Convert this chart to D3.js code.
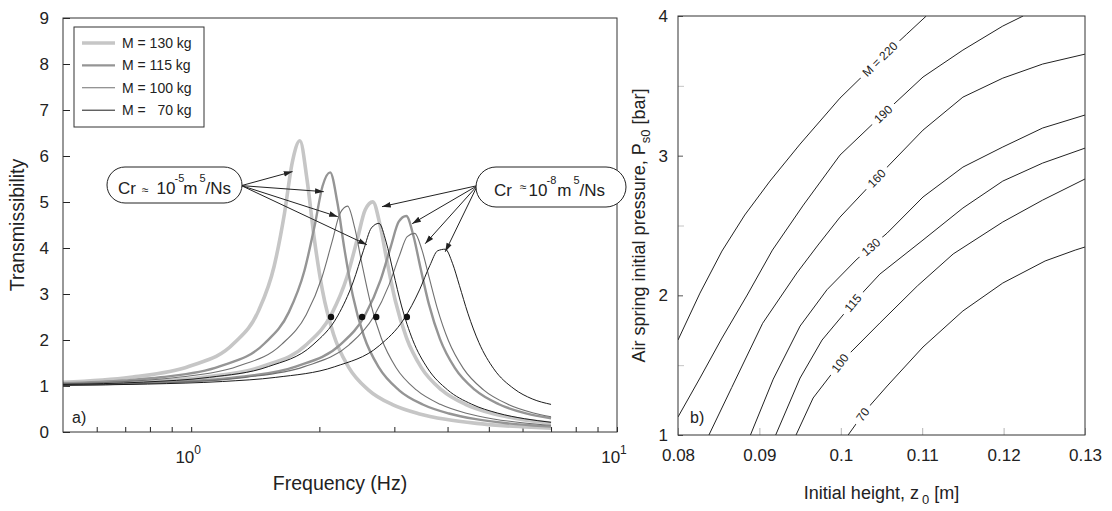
<!DOCTYPE html>
<html>
<head>
<meta charset="utf-8">
<script src="https://cdn.jsdelivr.net/npm/d3@7"></script>
<style>
  body { margin: 0; background: #fff; }
  svg { font-family: "Liberation Sans", Arial, Helvetica, sans-serif; }
  .pre { white-space: pre; }
</style>
</head>
<body>
<svg id="chart" width="1112" height="511"></svg>
<script>
// ---------- panel a) transmissibility curves, [frequency Hz, T] ----------
const massLabels = ['M = 130 kg', 'M = 115 kg', 'M = 100 kg', 'M =   70 kg'];

// Cr ~ 1e-5 m^5/Ns
const t130cr5 = [[0.5,1.083],[0.72,1.190],[0.99,1.428],[1.26,1.927],[1.44,2.639],[1.566,3.604],[1.656,4.751],[1.728,5.867],[1.8,6.330],[1.872,5.470],[1.944,4.230],[2.034,3.073],[2.16,2.121],[2.34,1.417],[2.61,0.911],[2.97,0.594],[3.42,0.398],[3.96,0.275],[4.68,0.188],[5.4,0.138],[6.3,0.102],[7.0,0.083]];
const t115cr5 = [[0.5,1.059],[0.70,1.122],[0.848,1.189],[1.166,1.426],[1.484,1.919],[1.696,2.606],[1.844,3.500],[1.950,4.488],[2.035,5.348],[2.12,5.645],[2.205,4.982],[2.290,3.981],[2.396,2.970],[2.544,2.087],[2.756,1.410],[3.074,0.912],[3.498,0.597],[4.028,0.402],[4.664,0.279],[5.512,0.191],[6.36,0.142],[7.0,0.117]];
const t100cr5 = [[0.5,1.048],[0.699,1.098],[0.932,1.189],[1.282,1.424],[1.631,1.905],[1.864,2.556],[2.027,3.353],[2.144,4.149],[2.237,4.754],[2.33,4.911],[2.423,4.425],[2.516,3.666],[2.633,2.828],[2.796,2.038],[3.029,1.398],[3.379,0.914],[3.845,0.602],[4.427,0.407],[5.126,0.284],[6.058,0.197],[7.0,0.147]];
const t70cr5 = [[0.5,1.034],[0.773,1.085],[1.104,1.189],[1.518,1.422],[1.932,1.896],[2.208,2.523],[2.401,3.260],[2.539,3.951],[2.650,4.436],[2.76,4.536],[2.870,4.129],[2.981,3.485],[3.119,2.740],[3.312,2.005],[3.588,1.390],[4.002,0.915],[4.554,0.606],[5.244,0.411],[6.072,0.288],[7.0,0.211]];

// Cr ~ 1e-8 m^5/Ns
const t130cr8 = [[0.5,1.036],[0.748,1.085],[1.068,1.189],[1.469,1.424],[1.869,1.907],[2.136,2.563],[2.323,3.374],[2.456,4.195],[2.563,4.831],[2.67,5.003],[2.777,4.497],[2.884,3.709],[3.017,2.848],[3.204,2.045],[3.471,1.400],[3.872,0.914],[4.406,0.601],[5.073,0.407],[5.874,0.284],[7.0,0.192]];
const t115cr8 = [[0.5,1.025],[0.8,1.067],[1.28,1.189],[1.76,1.423],[2.24,1.900],[2.56,2.538],[2.784,3.301],[2.944,4.037],[3.072,4.572],[3.2,4.695],[3.328,4.255],[3.456,3.563],[3.616,2.779],[3.84,2.019],[4.16,1.393],[4.64,0.914],[5.28,0.604],[6.08,0.410],[7.0,0.300]];
const t100cr8 = [[0.5,1.023],[0.838,1.066],[1.34,1.188],[1.843,1.421],[2.345,1.890],[2.68,2.500],[2.915,3.198],[3.082,3.828],[3.216,4.247],[3.35,4.319],[3.484,3.953],[3.618,3.372],[3.786,2.683],[4.02,1.983],[4.355,1.384],[4.858,0.916],[5.528,0.608],[6.365,0.414],[7.0,0.330]];
const t70cr8 = [[0.5,1.016],[0.79,1.042],[1.185,1.098],[1.58,1.188],[2.173,1.419],[2.765,1.877],[3.16,2.457],[3.437,3.088],[3.634,3.617],[3.792,3.940],[3.95,3.974],[4.108,3.668],[4.266,3.182],[4.464,2.582],[4.74,1.942],[5.135,1.374],[5.728,0.940],[6.32,0.720],[7.0,0.600]];

const curvesCr5 = [t130cr5, t115cr5, t100cr5, t70cr5];
const curvesCr8 = [t130cr8, t115cr8, t100cr8, t70cr8];

// crossing points of the two Cr curves of each mass
const dotFreq = [2.13, 2.52, 2.72, 3.21];
const dotT = 2.5;

// annotation arrows: box tip and the peaks they point to, [f, T]
const crLowTip = [1.312, 5.356];
const crLowTargets = [[1.730,5.661],[2.048,5.225],[2.210,4.681],[2.586,4.071]];
const crHighTip = [4.70, 5.356];
const crHighTargets = [[2.806,4.899],[3.303,4.529],[3.544,4.093],[3.951,3.919]];

const xTicksA = [0.6,0.7,0.8,0.9,1,2,3,4,5,6,7,8,9,10];
const yTicksA = [0,1,2,3,4,5,6,7,8,9];

// ---------- panel b) mass contours, [z0 m, Ps0 bar] ----------
const c220 = [[0.0800,1.680],[0.0827,2.016],[0.0854,2.317],[0.0882,2.575],[0.0913,2.818],[0.0950,3.083],[0.0999,3.412],[0.1048,3.691],[0.1081,3.870],[0.1105,4.000]];
const c190 = [[0.0800,1.129],[0.0827,1.408],[0.0854,1.694],[0.0885,2.002],[0.0916,2.324],[0.0954,2.646],[0.0999,3.004],[0.1048,3.276],[0.1101,3.563],[0.1150,3.756],[0.1199,3.928],[0.1224,4.000]];
const c160 = [[0.0838,1.000],[0.0866,1.340],[0.0904,1.800],[0.0946,2.160],[0.0972,2.360],[0.0999,2.560],[0.1057,2.918],[0.1101,3.183],[0.1150,3.419],[0.1199,3.555],[0.1248,3.656],[0.1300,3.727]];
const c130 = [[0.0889,1.000],[0.0917,1.400],[0.0950,1.780],[0.0983,2.040],[0.1020,2.260],[0.1057,2.446],[0.1101,2.704],[0.1150,2.918],[0.1199,3.062],[0.1248,3.198],[0.1300,3.291]];
const c115 = [[0.0920,1.000],[0.0950,1.408],[0.0977,1.680],[0.1015,1.945],[0.1048,2.152],[0.1101,2.396],[0.1150,2.625],[0.1199,2.818],[0.1248,2.947],[0.1300,3.054]];
const c100 = [[0.0945,1.000],[0.0966,1.265],[0.0999,1.515],[0.1048,1.802],[0.1094,2.067],[0.1138,2.296],[0.1199,2.525],[0.1248,2.682],[0.1300,2.833]];
const c70 = [[0.1009,1.000],[0.1031,1.179],[0.1057,1.351],[0.1101,1.630],[0.1150,1.888],[0.1199,2.088],[0.1251,2.246],[0.1288,2.324],[0.1300,2.346]];

const contours = [c220, c190, c160, c130, c115, c100, c70];
const contourLabels = ['M = 220', '190', '160', '130', '115', '100', '70'];
const contourLabelZ = [0.1048, 0.1052, 0.1044, 0.1037, 0.1015, 0.0999, 0.1027];

const xTicksB = [0.08, 0.09, 0.1, 0.11, 0.12, 0.13];
const yTicksB = [1, 2, 3, 4];
const yMinorB = [1.5, 2.5, 3.5];

// ---------- drawing ----------
const svg = d3.select('#chart');
const ink = '#222';

const defs = svg.append('defs');
defs.append('marker')
  .attr('id', 'arrowhead')
  .attr('viewBox', '0 -4 10 8')
  .attr('refX', 10)
  .attr('refY', 0)
  .attr('markerWidth', 9)
  .attr('markerHeight', 7)
  .attr('markerUnits', 'userSpaceOnUse')
  .attr('orient', 'auto')
  .append('path')
  .attr('d', 'M0,-3.2L10,0L0,3.2Z')
  .attr('fill', ink);

// ===== panel a =====
const pa = { left: 63, right: 617, top: 18, bottom: 432 };
const xA = d3.scaleLog().domain([0.5, 10]).range([pa.left, pa.right]);
const yA = d3.scaleLinear().domain([0, 9]).range([pa.bottom, pa.top]);

const gA = svg.append('g');

// ticks pointing inward
const xAxisA = gA.append('g')
  .attr('transform', `translate(0,${pa.bottom})`)
  .call(d3.axisBottom(xA).tickValues(xTicksA).tickSize(-5).tickFormat(''));
xAxisA.select('.domain').remove();
xAxisA.selectAll('line').attr('stroke', ink);

const yAxisA = gA.append('g')
  .attr('transform', `translate(${pa.left},0)`)
  .call(d3.axisLeft(yA).tickValues(yTicksA).tickSize(-7).tickPadding(14));
yAxisA.select('.domain').remove();
yAxisA.selectAll('line').attr('stroke', ink);
yAxisA.selectAll('text').attr('font-size', 17).attr('fill', ink).attr('font-family', null);

// 10^0, 10^1 labels
[1, 10].forEach((v, i) => {
  const t = gA.append('text')
    .attr('x', xA(v) - 3)
    .attr('y', pa.bottom + 31)
    .attr('text-anchor', 'middle')
    .attr('fill', ink)
    .attr('font-size', 17);
  t.append('tspan').text('10');
  t.append('tspan').attr('dy', -9).attr('font-size', 12).text(String(i));
});

const lineA = d3.line()
  .x(d => xA(d[0]))
  .y(d => yA(d[1]))
  .curve(d3.curveMonotoneX);

const massStyles = [
  { color: '#c6c6c6', width: 3.6 },
  { color: '#959595', width: 2.4 },
  { color: '#707070', width: 1.1 },
  { color: '#1c1c1c', width: 1.0 }
];

massStyles.forEach((s, i) => {
  [curvesCr5[i], curvesCr8[i]].forEach(c => {
    gA.append('path')
      .attr('d', lineA(c))
      .attr('fill', 'none')
      .attr('stroke', s.color)
      .attr('stroke-width', s.width)
      .attr('stroke-linejoin', 'round');
  });
});

gA.selectAll('circle.cross')
  .data(dotFreq)
  .join('circle')
  .attr('class', 'cross')
  .attr('cx', d => xA(d))
  .attr('cy', yA(dotT))
  .attr('r', 3.2)
  .attr('fill', '#111');

// frame
gA.append('rect')
  .attr('x', pa.left).attr('y', pa.top)
  .attr('width', pa.right - pa.left).attr('height', pa.bottom - pa.top)
  .attr('fill', 'none').attr('stroke', '#333').attr('stroke-width', 1);

// legend
const leg = gA.append('g');
leg.append('rect')
  .attr('x', 74).attr('y', 27).attr('width', 130).attr('height', 100)
  .attr('fill', '#fff').attr('stroke', '#333').attr('stroke-width', 1);
massLabels.forEach((lab, i) => {
  const y = 43 + i * 22.4;
  leg.append('line')
    .attr('x1', 82).attr('x2', 115).attr('y1', y).attr('y2', y)
    .attr('stroke', massStyles[i].color)
    .attr('stroke-width', massStyles[i].width);
  leg.append('text')
    .attr('class', 'pre')
    .attr('x', 122).attr('y', y + 5)
    .attr('font-size', 14).attr('fill', ink)
    .text(lab);
});

// annotations
function arrows(tip, targets) {
  targets.forEach(t => {
    gA.append('line')
      .attr('x1', xA(tip[0])).attr('y1', yA(tip[1]))
      .attr('x2', xA(t[0])).attr('y2', yA(t[1]))
      .attr('stroke', ink).attr('stroke-width', 1)
      .attr('marker-end', 'url(#arrowhead)');
  });
}
arrows(crLowTip, crLowTargets);
arrows(crHighTip, crHighTargets);

function crBox(x0, x1, cy, h, approxUp, exp) {
  gA.append('rect')
    .attr('x', x0).attr('y', cy - h / 2)
    .attr('width', x1 - x0).attr('height', h)
    .attr('rx', h / 2).attr('ry', h / 2)
    .attr('fill', '#fff').attr('stroke', ink).attr('stroke-width', 1);
  const t = gA.append('text')
    .attr('x', x0 + (approxUp ? 18 : 11)).attr('y', cy + 9)
    .attr('font-size', 17).attr('fill', ink);
  t.append('tspan').text('Cr');
  t.append('tspan').attr('font-size', 12).attr('dx', approxUp ? 8 : 6).attr('dy', approxUp ? -5 : 0).text('\u2248');
  t.append('tspan').attr('dx', approxUp ? 2 : 8).attr('dy', approxUp ? 5 : 0).text('10');
  t.append('tspan').attr('font-size', 11).attr('dx', -1).attr('dy', -12).text(exp);
  t.append('tspan').attr('dx', approxUp ? 1 : -1).attr('dy', 12).text('m');
  t.append('tspan').attr('font-size', 11).attr('dx', 2).attr('dy', -12).text('5');
  t.append('tspan').attr('dy', 12).text('/Ns');
}
crBox(107, 242, 185, 36, false, '-5');
crBox(476, 626, 187, 40, true, '-8');

gA.append('text')
  .attr('x', 72).attr('y', 423)
  .attr('font-size', 16).attr('fill', ink)
  .text('a)');

gA.append('text')
  .attr('transform', `translate(24,${(pa.top + pa.bottom) / 2}) rotate(-90)`)
  .attr('text-anchor', 'middle')
  .attr('font-size', 19.5).attr('fill', ink)
  .text('Transmissibility');

gA.append('text')
  .attr('x', (pa.left + pa.right) / 2).attr('y', 490)
  .attr('text-anchor', 'middle')
  .attr('font-size', 19.5).attr('fill', ink)
  .text('Frequency (Hz)');

// ===== panel b =====
const pb = { left: 678, right: 1085, top: 16, bottom: 435 };
const xB = d3.scaleLinear().domain([0.08, 0.13]).range([pb.left, pb.right]);
const yB = d3.scaleLinear().domain([1, 4]).range([pb.bottom, pb.top]);

const gB = svg.append('g');

defs.append('clipPath').attr('id', 'clipB')
  .append('rect')
  .attr('x', pb.left).attr('y', pb.top)
  .attr('width', pb.right - pb.left).attr('height', pb.bottom - pb.top);

const xAxisB = gB.append('g')
  .attr('transform', `translate(0,${pb.bottom})`)
  .call(d3.axisBottom(xB).tickValues(xTicksB).tickSize(-7).tickPadding(14)
    .tickFormat(d => String(+d.toFixed(2))));
xAxisB.select('.domain').remove();
xAxisB.selectAll('line').attr('stroke', '#b4b4b4');
xAxisB.selectAll('text').attr('font-size', 17).attr('fill', ink).attr('font-family', null);

const yAxisB = gB.append('g')
  .attr('transform', `translate(${pb.left},0)`)
  .call(d3.axisLeft(yB).tickValues(yTicksB).tickSize(-5).tickPadding(10).tickFormat(d3.format('d')));
yAxisB.select('.domain').remove();
yAxisB.selectAll('line').attr('stroke', '#555');
yAxisB.selectAll('text').attr('font-size', 17).attr('fill', ink).attr('font-family', null);

const yMinorAxisB = gB.append('g')
  .attr('transform', `translate(${pb.left},0)`)
  .call(d3.axisLeft(yB).tickValues(yMinorB).tickSize(-6).tickFormat(''));
yMinorAxisB.select('.domain').remove();
yMinorAxisB.selectAll('line').attr('stroke', '#c4c4c4');

const lineB = d3.line()
  .x(d => xB(d[0]))
  .y(d => yB(d[1]));

const contourG = gB.append('g').attr('clip-path', 'url(#clipB)');
contours.forEach(c => {
  contourG.append('path')
    .attr('d', lineB(c))
    .attr('fill', 'none')
    .attr('stroke', ink)
    .attr('stroke-width', 1)
    .attr('stroke-linejoin', 'round');
});

function labelSpot(points, z) {
  const px = points.map(d => [xB(d[0]), yB(d[1])]);
  const tx = xB(z);
  let i = px.findIndex((p, k) => k < px.length - 1 && tx >= p[0] && tx <= px[k + 1][0]);
  if (i < 0) i = 0;
  const a = px[i], b = px[i + 1];
  const f = (tx - a[0]) / (b[0] - a[0]);
  return {
    x: tx,
    y: a[1] + f * (b[1] - a[1]),
    angle: Math.atan2(b[1] - a[1], b[0] - a[0]) * 180 / Math.PI
  };
}

contours.forEach((c, i) => {
  const s = labelSpot(c, contourLabelZ[i]);
  const g = gB.append('g').attr('transform', `translate(${s.x},${s.y}) rotate(${s.angle})`);
  const bg = g.append('rect').attr('fill', '#fff');
  const t = g.append('text')
    .attr('text-anchor', 'middle')
    .attr('dy', '0.35em')
    .attr('font-size', 12)
    .attr('fill', ink)
    .text(contourLabels[i]);
  const w = t.node().getComputedTextLength() + 10;
  bg.attr('x', -w / 2).attr('y', -5).attr('width', w).attr('height', 10);
});

gB.append('rect')
  .attr('x', pb.left).attr('y', pb.top)
  .attr('width', pb.right - pb.left).attr('height', pb.bottom - pb.top)
  .attr('fill', 'none').attr('stroke', '#333').attr('stroke-width', 1);

gB.append('text')
  .attr('x', 690).attr('y', 423)
  .attr('font-size', 16).attr('fill', ink)
  .text('b)');

const yTitleB = gB.append('text')
  .attr('transform', `translate(645,${(pb.top + pb.bottom) / 2}) rotate(-90)`)
  .attr('text-anchor', 'middle')
  .attr('font-size', 18).attr('fill', ink);
yTitleB.append('tspan').text('Air spring initial pressure, P');
yTitleB.append('tspan').attr('font-size', 13).attr('dy', 5).text('s0');
yTitleB.append('tspan').attr('dy', -5).text(' [bar]');

const xTitleB = gB.append('text')
  .attr('x', (pb.left + pb.right) / 2).attr('y', 499)
  .attr('text-anchor', 'middle')
  .attr('font-size', 18).attr('fill', ink);
xTitleB.append('tspan').text('Initial height, z');
xTitleB.append('tspan').attr('font-size', 13).attr('dx', 3).attr('dy', 5).text('0');
xTitleB.append('tspan').attr('dy', -5).text(' [m]');
</script>
</body>
</html>
